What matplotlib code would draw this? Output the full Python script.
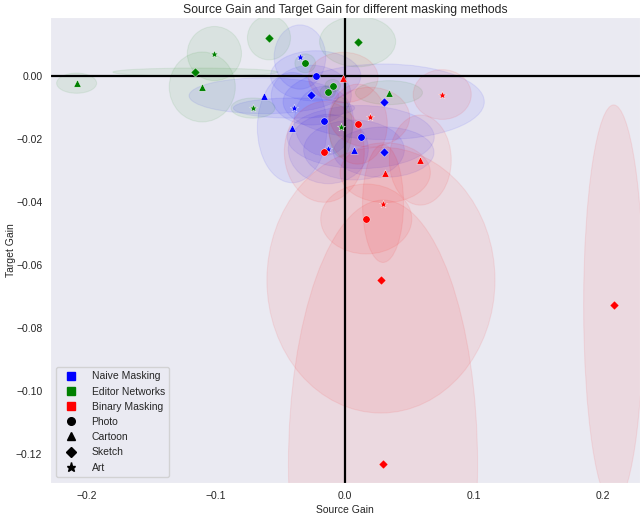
"""Source gain vs target gain scatter with spread ellipses."""
import matplotlib
matplotlib.use("Agg")
import matplotlib.pyplot as plt
from matplotlib.patches import Ellipse
from matplotlib.lines import Line2D
import seaborn as sns

sns.set_style("dark")
plt.rcParams['font.family'] = ['Liberation Sans', 'DejaVu Sans']

methods = ['Naive Masking', 'Editor Networks', 'Binary Masking']
method_colors = ['blue', 'green', 'red']
domains = ['Photo', 'Cartoon', 'Sketch', 'Art']
domain_markers = ['o', '^', 'D', '*']
marker_sizes = [28, 28, 22, 38]

# each method: 4 source domains x 3 target domains
naive_src = [[-0.0227, -0.0163, 0.0122], [-0.0628, -0.0409, 0.0070],
             [-0.0261, 0.0300, 0.0300], [-0.0349, -0.0395, -0.0129]]
naive_tgt = [[-0.0001, -0.0144, -0.0195], [-0.0064, -0.0165, -0.0236],
             [-0.0062, -0.0083, -0.0243], [0.0059, -0.0103, -0.0233]]
naive_src_sd = [[0.035, 0.023, 0.057], [0.058, 0.027, 0.039],
                [0.031, 0.078, 0.039], [0.020, 0.047, 0.031]]
naive_tgt_sd = [[0.008, 0.011, 0.010], [0.0057, 0.0175, 0.0095],
                [0.0095, 0.012, 0.008], [0.0102, 0.0032, 0.011]]

editor_src = [[-0.0308, -0.0095, -0.0134], [-0.2080, -0.1106, 0.0341],
              [-0.0589, 0.0098, -0.1159], [-0.1012, -0.0713, -0.0033]]
editor_tgt = [[0.0039, -0.0032, -0.0052], [-0.0024, -0.0036, -0.0054],
              [0.0120, 0.0108, 0.0011], [0.0070, -0.0103, -0.0164]]
editor_src_sd = [[0.008, 0.006, 0.006], [0.0155, 0.0256, 0.026],
                 [0.0167, 0.0295, 0.064], [0.021, 0.017, 0.009]]
editor_tgt_sd = [[0.003, 0.002, 0.002], [0.0032, 0.0111, 0.0038],
                 [0.007, 0.008, 0.0013], [0.0086, 0.0032, 0.0095]]

binary_src = [[0.0098, -0.0160, 0.0165], [-0.0013, 0.0584, 0.0312],
              [0.0279, 0.0295, 0.2083], [0.0754, 0.0191, 0.0295]]
binary_tgt = [[-0.0154, -0.0242, -0.0455], [-0.0006, -0.0268, -0.0308],
              [-0.0649, -0.1233, -0.0728], [-0.0060, -0.0132, -0.0406]]
binary_src_sd = [[0.023, 0.031, 0.0353], [0.027, 0.024, 0.035],
                 [0.0884, 0.0733, 0.0233], [0.0225, 0.031, 0.0159]]
binary_tgt_sd = [[0.0127, 0.016, 0.0111], [0.008, 0.0143, 0.0095],
                 [0.0422, 0.0838, 0.0635], [0.0079, 0.0095, 0.0187]]

all_src = [naive_src, editor_src, binary_src]
all_tgt = [naive_tgt, editor_tgt, binary_tgt]
all_src_sd = [naive_src_sd, editor_src_sd, binary_src_sd]
all_tgt_sd = [naive_tgt_sd, editor_tgt_sd, binary_tgt_sd]

fig = plt.figure(figsize=(6.4, 5.16), dpi=100)
ax = fig.add_axes([0.078, 0.064, 0.922, 0.903])

for m, color in enumerate(method_colors):
    for d in range(len(domains)):
        for k in range(3):
            x = all_src[m][d][k]
            y = all_tgt[m][d][k]
            ell = Ellipse((x, y), 2 * all_src_sd[m][d][k], 2 * all_tgt_sd[m][d][k],
                          facecolor=color, edgecolor=color, alpha=0.07,
                          linewidth=0.8, zorder=1)
            ax.add_patch(ell)

ax.axhline(0, color='black', linewidth=1.6, zorder=2)
ax.axvline(0, color='black', linewidth=1.6, zorder=2)

for m, color in enumerate(method_colors):
    for d, marker in enumerate(domain_markers):
        ax.scatter(all_src[m][d], all_tgt[m][d], c=color, marker=marker,
                   s=marker_sizes[d], edgecolors='white', linewidths=0.3,
                   zorder=3)

ax.set_xlim(-0.2287, 0.2287)
ax.set_ylim(-0.1293, 0.0186)
ax.set_xticks([-0.2, -0.1, 0.0, 0.1, 0.2])
ax.set_yticks([0.0, -0.02, -0.04, -0.06, -0.08, -0.10, -0.12])
ax.set_yticklabels(['0.00', '\u22120.02', '\u22120.04', '\u22120.06',
                    '\u22120.08', '\u22120.10', '\u22120.12'])
ax.set_xticklabels(['\u22120.2', '\u22120.1', '0.0', '0.1', '0.2'])
ax.tick_params(labelsize=7.5, colors='#262626', pad=2)
ax.set_xlabel('Source Gain', fontsize=7.5, labelpad=3)
ax.set_ylabel('Target Gain', fontsize=7.5)
ax.yaxis.set_label_coords(-0.058, 0.5)
ax.set_title('Source Gain and Target Gain for different masking methods',
             fontsize=8.8, pad=3)

handles = []
for name, color in zip(methods, method_colors):
    handles.append(Line2D([], [], marker='s', color=color, linestyle='None',
                          markersize=5.5, label=name))
for name, marker in zip(domains, domain_markers):
    handles.append(Line2D([], [], marker=marker, color='black', linestyle='None',
                          markersize=5.5 if marker != '*' else 6.5, label=name))
ax.legend(handles=handles, loc='lower left', fontsize=7.5, frameon=True,
          borderaxespad=0.6, handletextpad=1.0, labelspacing=0.5)

fig.savefig('out.png', dpi=100)
